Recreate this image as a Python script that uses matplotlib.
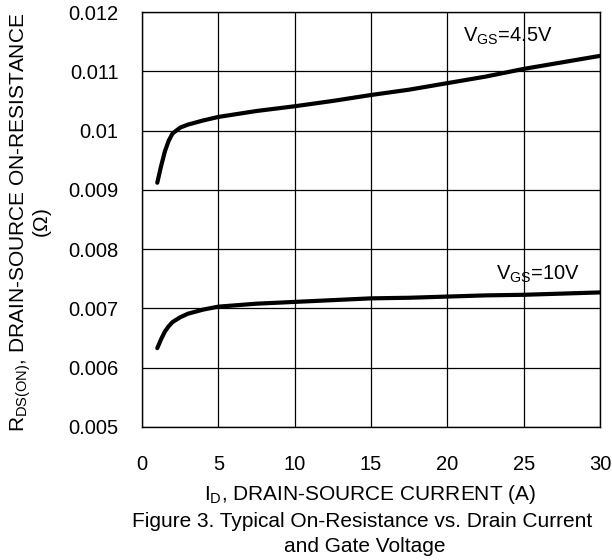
import numpy as np
import matplotlib.pyplot as plt

plt.rcParams['font.family'] = ['Liberation Sans', 'DejaVu Sans']
plt.rcParams['mathtext.fontset'] = 'custom'
plt.rcParams['mathtext.rm'] = 'Liberation Sans'
plt.rcParams['mathtext.default'] = 'regular'

# ============================== DATA ==============================
i_d = [1, 1.25, 1.5, 1.75, 2, 2.5, 3, 4, 5, 7.5, 10, 12.5, 15, 17.5, 20, 22.5, 25, 27.5, 30]
r_45v = [0.00912, 0.00940, 0.00965, 0.00983, 0.00995, 0.01005, 0.01010, 0.01017, 0.01023,
         0.01033, 0.01041, 0.01050, 0.01060, 0.01069, 0.01080, 0.01091, 0.01104, 0.01115, 0.01126]
r_10v = [0.00633, 0.00648, 0.00661, 0.00670, 0.00677, 0.00685, 0.00691, 0.00698, 0.00703,
         0.00708, 0.00711, 0.00714, 0.00717, 0.00718, 0.00720, 0.00722, 0.00723, 0.00725, 0.00727]

x_ticks = [0, 5, 10, 15, 20, 25, 30]
y_ticks = [0.005, 0.006, 0.007, 0.008, 0.009, 0.01, 0.011, 0.012]
y_tick_labels = ['0.005', '0.006', '0.007', '0.008', '0.009', '0.01', '0.011', '0.012']

# ============================== PLOT ==============================
fig = plt.figure(figsize=(6.12, 5.6), dpi=100)
ax = fig.add_axes([142/612, 1 - 427/560, 458/612, 415/560])

ax.plot(i_d, r_45v, color='black', lw=3.0, solid_capstyle='round')
ax.plot(i_d, r_10v, color='black', lw=3.0, solid_capstyle='round')

ax.set_xlim(0, 30)
ax.set_ylim(0.005, 0.012)
ax.set_xticks(x_ticks)
ax.set_yticks(y_ticks)
ax.set_yticklabels(y_tick_labels)
ax.grid(True, color='black', lw=0.9)
ax.tick_params(length=0, labelsize=14.5)
ax.tick_params(axis='x', pad=20)
ax.tick_params(axis='y', pad=17)
for s in ax.spines.values():
    s.set_color('black')
    s.set_linewidth(1.0)

# curve labels
ax.text(23.97, 0.011494, r'V$_{GS}$=4.5V', fontsize=14.5, ha='center', va='baseline')
ax.text(25.94, 0.00748, r'V$_{GS}$=10V', fontsize=14.5, ha='center', va='baseline')

# axis titles and caption
fig.text(370/612, 1 - 500/560, r'I$_{D}$, DRAIN-SOURCE CURRENT (A)', fontsize=15,
         ha='center', va='baseline')
fig.text(362/612, 1 - 527/560, 'Figure 3. Typical On-Resistance vs. Drain Current',
         fontsize=15, ha='center', va='baseline')
fig.text(365/612, 1 - 552/560, 'and Gate Voltage',
         fontsize=15, ha='center', va='baseline')
fig.text(21/612, 1 - 222/560, 'R$_{DS(ON)}$, DRAIN-SOURCE ON-RESISTANCE',
         fontsize=15, ha='center', va='center', rotation=90)
fig.text(43/612, 1 - 223/560, '($\\Omega$)',
         fontsize=15, ha='center', va='center', rotation=90)

fig.savefig('out.png', dpi=100)
